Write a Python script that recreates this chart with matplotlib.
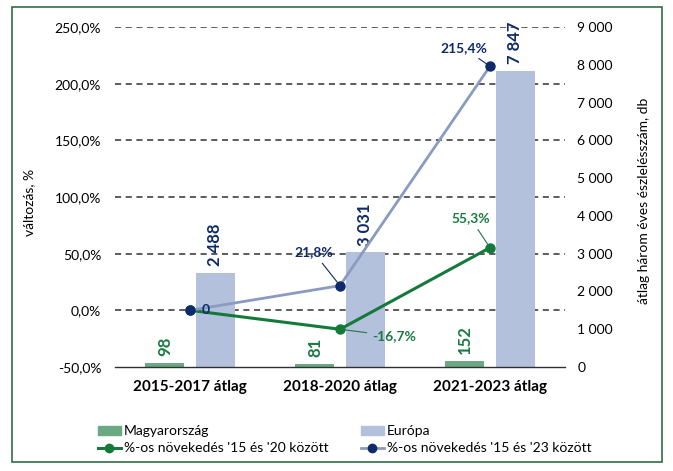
import matplotlib
matplotlib.use("Agg")
import matplotlib.pyplot as plt
from matplotlib.lines import Line2D
from matplotlib.patches import Patch, Rectangle
from matplotlib.ticker import FuncFormatter

plt.rcParams['font.family'] = ['Lato', 'DejaVu Sans']

categories = ["2015-2017 átlag", "2018-2020 átlag", "2021-2023 átlag"]
hungary = [98, 81, 152]
europe = [2488, 3031, 7847]
growth_hu = [0, -16.7, 55.3]
growth_eu = [0, 21.8, 215.4]

c_hu_bar = "#6ba884"
c_eu_bar = "#b4c1dd"
c_hu_line = "#137a3a"
c_eu_line = "#8a9bc0"
c_eu_dark = "#0e2a6b"
c_hu_text = "#1b7a43"
grid_c = "#303030"

fig = plt.figure(figsize=(6.73, 4.71), dpi=100)
ax = fig.add_axes([0.1709, 0.2208, 0.6686, 0.7219])
ax2 = ax.twinx()
ax.set_zorder(2)
ax2.set_zorder(1)
ax.patch.set_visible(False)

x = list(range(len(categories)))
w = 0.26
off = 0.167

# bars on right axis
ax2.bar([i - off for i in x], hungary, w, color=c_hu_bar, zorder=3)
ax2.bar([i + off for i in x], europe, w, color=c_eu_bar, zorder=3)
ax2.set_ylim(0, 9000)
ax2.set_yticks(range(0, 9001, 1000))
ax2.yaxis.set_major_formatter(FuncFormatter(lambda v, p: f"{int(v):,}".replace(",", " ")))

for i, v in zip(x, hungary):
    ax2.annotate(str(v), xy=(i - off, v), xytext=(0, 5), textcoords="offset points",
                 rotation=90, ha="center", va="bottom", fontsize=12, fontweight="bold",
                 color=c_hu_text)
for i, v in zip(x, europe):
    ax2.annotate(f"{v:,}".replace(",", " "), xy=(i + off, v), xytext=(0, 5),
                 textcoords="offset points", rotation=90, ha="center", va="bottom",
                 fontsize=12, fontweight="bold", color=c_eu_dark)

# lines on left axis
ax.set_ylim(-50, 250)
left_ticks = list(range(-50, 251, 50))
ax.set_yticks(left_ticks)
ax.yaxis.set_major_formatter(FuncFormatter(lambda v, p: f"{v:.1f}%".replace(".", ",")))
ax.plot(x, growth_hu, color=c_hu_line, lw=2.2, marker="o", ms=6.5, zorder=4)
ax.plot(x, growth_eu, color=c_eu_line, lw=2.0, marker="o", ms=6.5,
        markerfacecolor=c_eu_dark, markeredgecolor=c_eu_dark, zorder=5)

# dashed grid behind bars (left tick values mapped onto bar axis)
ax2.yaxis.remove_overlapping_locs = False
ax2.set_yticks([(t + 50) / 300 * 9000 for t in left_ticks[1:]], minor=True)
ax2.grid(True, which="minor", axis="y", color=grid_c, ls=(0, (4, 3)), lw=1.1, zorder=0)
ax2.tick_params(axis="y", which="minor", length=0)

ann = dict(textcoords="offset points", ha="center", va="center", fontsize=10,
           fontweight="bold")
ax.annotate("215,4%", xy=(2, growth_eu[2]), xytext=(-19, 13), color=c_eu_dark,
            arrowprops=dict(arrowstyle="-", color=c_eu_dark, lw=0.8, shrinkA=2, shrinkB=3), **ann)
ax.annotate("21,8%", xy=(1, growth_eu[1]), xytext=(-19, 24), color=c_eu_dark,
            arrowprops=dict(arrowstyle="-", color=c_eu_dark, lw=0.8, shrinkA=2, shrinkB=3), **ann)
ax.annotate("55,3%", xy=(2, growth_hu[2]), xytext=(-14, 21), color=c_hu_text,
            arrowprops=dict(arrowstyle="-", color=c_hu_text, lw=0.8, shrinkA=2, shrinkB=3), **ann)
ax.annotate("-16,7%", xy=(1, growth_hu[1]), xytext=(39, -5), color=c_hu_text,
            arrowprops=dict(arrowstyle="-", color=c_hu_text, lw=0.8, shrinkA=2, shrinkB=3), **ann)
ax.annotate("0", xy=(0, growth_eu[0]), xytext=(11, 0), color=c_eu_dark, zorder=6, **ann)

ax.set_xlim(-0.5, 2.5)
ax.set_xticks(x)
ax.set_xticklabels(categories, fontsize=11, fontweight="bold")
ax.tick_params(axis="x", length=0, pad=9)
ax.tick_params(axis="y", length=0, pad=10, labelsize=10)
ax2.tick_params(axis="y", which="major", length=0, pad=9, labelsize=10)

for s in ["top", "left", "right"]:
    ax.spines[s].set_visible(False)
    ax2.spines[s].set_visible(False)
ax2.spines["bottom"].set_visible(False)
ax.spines["bottom"].set_color(grid_c)
ax.spines["bottom"].set_linewidth(1)

ax.set_ylabel("változás, %", fontsize=10)
ax.yaxis.set_label_coords(-0.178, 0.485)
ax2.set_ylabel("átlag három éves észlelésszám, db", fontsize=10)
ax2.yaxis.set_label_coords(1.162, 0.49)

handles = [
    Patch(color=c_hu_bar),
    Line2D([], [], color=c_hu_line, lw=2.2, marker="o", ms=6),
    Patch(color=c_eu_bar),
    Line2D([], [], color=c_eu_line, lw=2.0, marker="o", ms=6,
           markerfacecolor=c_eu_dark, markeredgecolor=c_eu_dark),
]
labels = ["Magyarország", "%-os növekedés '15 és '20 között",
          "Európa", "%-os növekedés '15 és '23 között"]
fig.legend(handles, labels, loc="upper left", bbox_to_anchor=(0.145, 0.097), ncol=2,
           frameon=False, fontsize=10, borderpad=0, borderaxespad=0, handlelength=1.7,
           handleheight=0.6, handletextpad=0.2, columnspacing=2.3, labelspacing=0.35)

fig.patches.append(Rectangle((0.0171, 0.0191), 0.9666, 0.966, transform=fig.transFigure,
                             fill=False, edgecolor="#2d6e45", lw=1.2))

fig.savefig("out.png", dpi=100)
